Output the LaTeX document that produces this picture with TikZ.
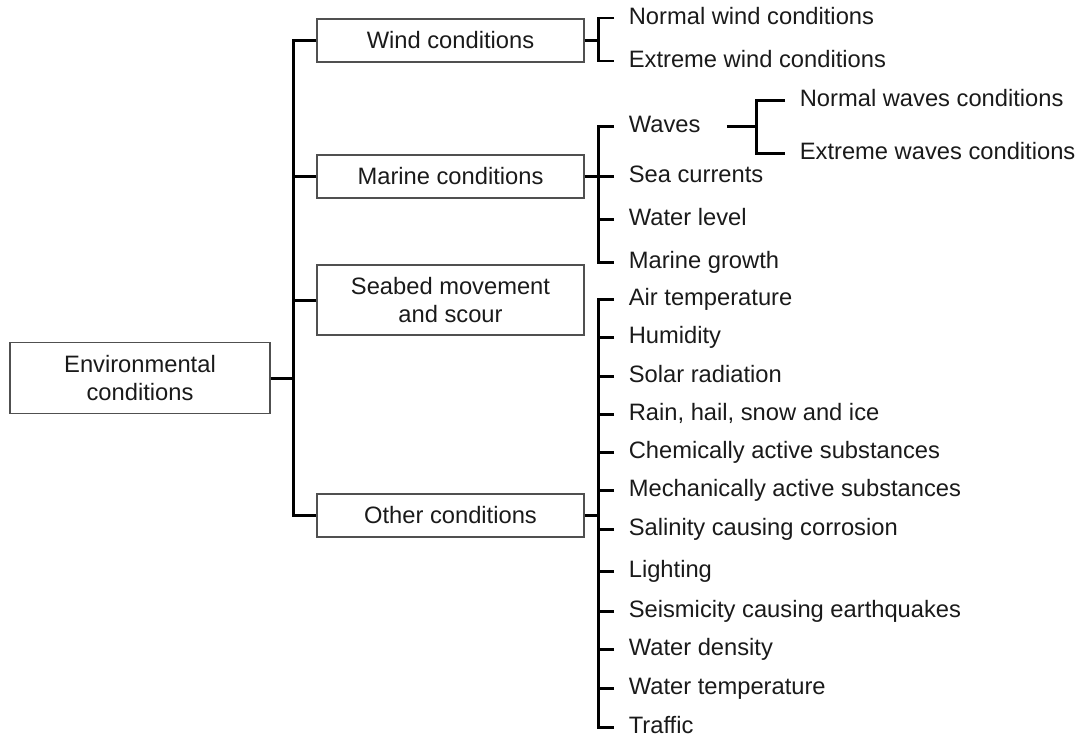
\documentclass[tikz,border=0pt]{standalone}
\usepackage{fontspec}
\setmainfont{Liberation Sans}
\usepackage{tikz}
\usetikzlibrary{positioning, calc}
\definecolor{boxline}{HTML}{505050}
\definecolor{inkdark}{HTML}{1A1A1A}
\tikzset{
  lbl/.style={font=\fontsize{13.5}{16}\selectfont, text=inkdark},
  card/.style={draw=boxline, line width=0.7pt, align=center, inner sep=0pt,
               minimum width=5.34cm, minimum height=0.86cm,
               font=\fontsize{13.5}{16}\selectfont, text=inkdark},
  link/.style={line width=1.7pt, color=black},
}

\begin{document}
\begin{tikzpicture}[x=0.02cm, y=-0.02cm,
  leaf/.style={lbl, anchor=west, inner xsep=0.29cm, inner ysep=0pt, text height=9.7pt, text depth=2.7pt}]
  \useasboundingbox (0,0) rectangle (1078,738);
  \node[card, minimum width=5.2cm, minimum height=1.42cm] (env) at (140,378) {Environmental\\conditions};
  \node[card] (wind) at (450.5,40.5) {Wind conditions};
  \node[card] (marine) at (450.5,176.5) {Marine conditions};
  \node[card, minimum height=1.4cm] (seabed) at (450.5,300) {Seabed movement\\and scour};
  \node[card] (other) at (450.5,515.5) {Other conditions};
  \coordinate (tj) at (293.5,378);
  \coordinate (wj) at (598,40.5);
  \coordinate (mj) at (598,176.5);
  \coordinate (oj) at (598,515.5);
  \coordinate (vj) at (756,126);
  \node[leaf] (nwind) at (614,18) {Normal wind conditions};
  \node[leaf] (xwind) at (614,61) {Extreme wind conditions};
  \node[leaf] (waves) at (614,126) {Waves};
  \node[leaf] (seacur) at (614,176.5) {Sea currents};
  \node[leaf] (wlevel) at (614,219) {Water level};
  \node[leaf] (mgrowth) at (614,262) {Marine growth};
  \node[leaf] (nwaves) at (785,100) {Normal waves conditions};
  \node[leaf] (xwaves) at (785,153) {Extreme waves conditions};
  \node[leaf] (airt) at (614,299) {Air temperature};
  \node[leaf] (humid) at (614,337) {Humidity};
  \node[leaf] (solar) at (614,376) {Solar radiation};
  \node[leaf] (rain) at (614,414) {Rain, hail, snow and ice};
  \node[leaf] (chem) at (614,452) {Chemically active substances};
  \node[leaf] (mech) at (614,490.5) {Mechanically active substances};
  \node[leaf] (salin) at (614,529.5) {Salinity causing corrosion};
  \node[leaf] (light) at (614,571) {Lighting};
  \node[leaf] (seism) at (614,611) {Seismicity causing earthquakes};
  \node[leaf] (wdens) at (614,649.5) {Water density};
  \node[leaf] (wtemp) at (614,688) {Water temperature};
  \node[leaf] (traffic) at (614,727) {Traffic};
  \draw[link] (env.east) -- (tj);
  \draw[link] (wind.west) -| (tj) |- (other.west);
  \draw[link] (marine.west) -- (marine.west -| tj);
  \draw[link] (seabed.west) -- (seabed.west -| tj);
  \draw[link] (wind.east) -- (wj);
  \draw[link] (nwind.west) -| (wj) |- (xwind.west);
  \draw[link] (marine.east) -- (mj);
  \draw[link] (waves.west) -| (mj) |- (mgrowth.west);
  \draw[link] (seacur.west) -- (seacur.west -| mj) (wlevel.west) -- (wlevel.west -| mj);
  \draw[link] ([xshift=0.23cm]waves.east) -- (vj);
  \draw[link] (nwaves.west) -| (vj) |- (xwaves.west);
  \draw[link] (other.east) -- (oj);
  \draw[link] (airt.west) -| (oj) |- (traffic.west);
  \draw[link] (humid.west) -- (humid.west -| oj) (solar.west) -- (solar.west -| oj)
    (rain.west) -- (rain.west -| oj) (chem.west) -- (chem.west -| oj)
    (mech.west) -- (mech.west -| oj) (salin.west) -- (salin.west -| oj)
    (light.west) -- (light.west -| oj) (seism.west) -- (seism.west -| oj)
    (wdens.west) -- (wdens.west -| oj) (wtemp.west) -- (wtemp.west -| oj);
\end{tikzpicture}
\end{document}
